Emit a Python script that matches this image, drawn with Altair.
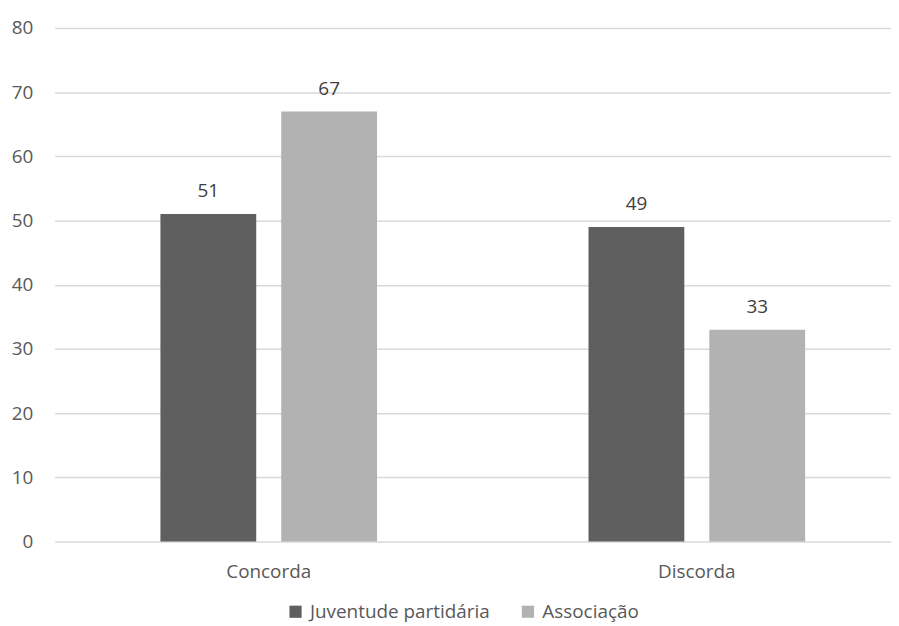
import altair as alt
import pandas as pd

categories = ["Concorda", "Concorda", "Discorda", "Discorda"]
series = ["Juventude partidária", "Associação", "Juventude partidária", "Associação"]
values = [51, 67, 49, 33]
series_order = ["Juventude partidária", "Associação"]
series_colors = ["#5f5f5f", "#b2b2b2"]

df = pd.DataFrame({"cat": categories, "serie": series, "val": values})

FONT = "Open Sans"
FS = 19

base = alt.Chart(df).encode(
    x=alt.X("cat:N", title=None, sort=["Concorda", "Discorda"],
            scale=alt.Scale(range=[0, 862], paddingInner=0.494, paddingOuter=0.247),
            axis=alt.Axis(labelAngle=0, domain=False, ticks=False, labelPadding=21,
                          labelFont=FONT, labelFontSize=FS, labelColor="#595959", grid=False)),
    xOffset=alt.XOffset("serie:N", sort=series_order,
                        scale=alt.Scale(paddingInner=0.207, paddingOuter=0)),
)

bars = base.mark_bar().encode(
    y=alt.Y("val:Q", title=None,
            scale=alt.Scale(domain=[0, 80]),
            axis=alt.Axis(values=list(range(0, 81, 10)), domain=False, ticks=False,
                          labelPadding=22, labelFont=FONT, labelFontSize=FS,
                          labelColor="#595959", gridColor="#d9d9d9", gridWidth=1.5)),
    color=alt.Color("serie:N", sort=series_order,
                    scale=alt.Scale(domain=series_order, range=series_colors),
                    legend=alt.Legend(title=None, orient="none", direction="horizontal",
                                      legendX=233, legendY=578, symbolType="square",
                                      symbolSize=150, symbolStrokeWidth=0,
                                      labelFont=FONT, labelFontSize=FS, labelColor="#595959",
                                      labelLimit=400, columnPadding=28, labelOffset=5)),
)

labels = base.mark_text(dy=-13, baseline="bottom", font=FONT, fontSize=FS, color="#404040").encode(
    y="val:Q",
    text="val:Q",
)

chart = (bars + labels).properties(
    width=842, height=517,
    padding={"left": 47, "top": 18, "right": 0, "bottom": 82},
    autosize=alt.AutoSizeParams(type="none"),
).configure_view(stroke=None)

chart.save("out.html", embed_options={"renderer": "svg", "actions": False})
